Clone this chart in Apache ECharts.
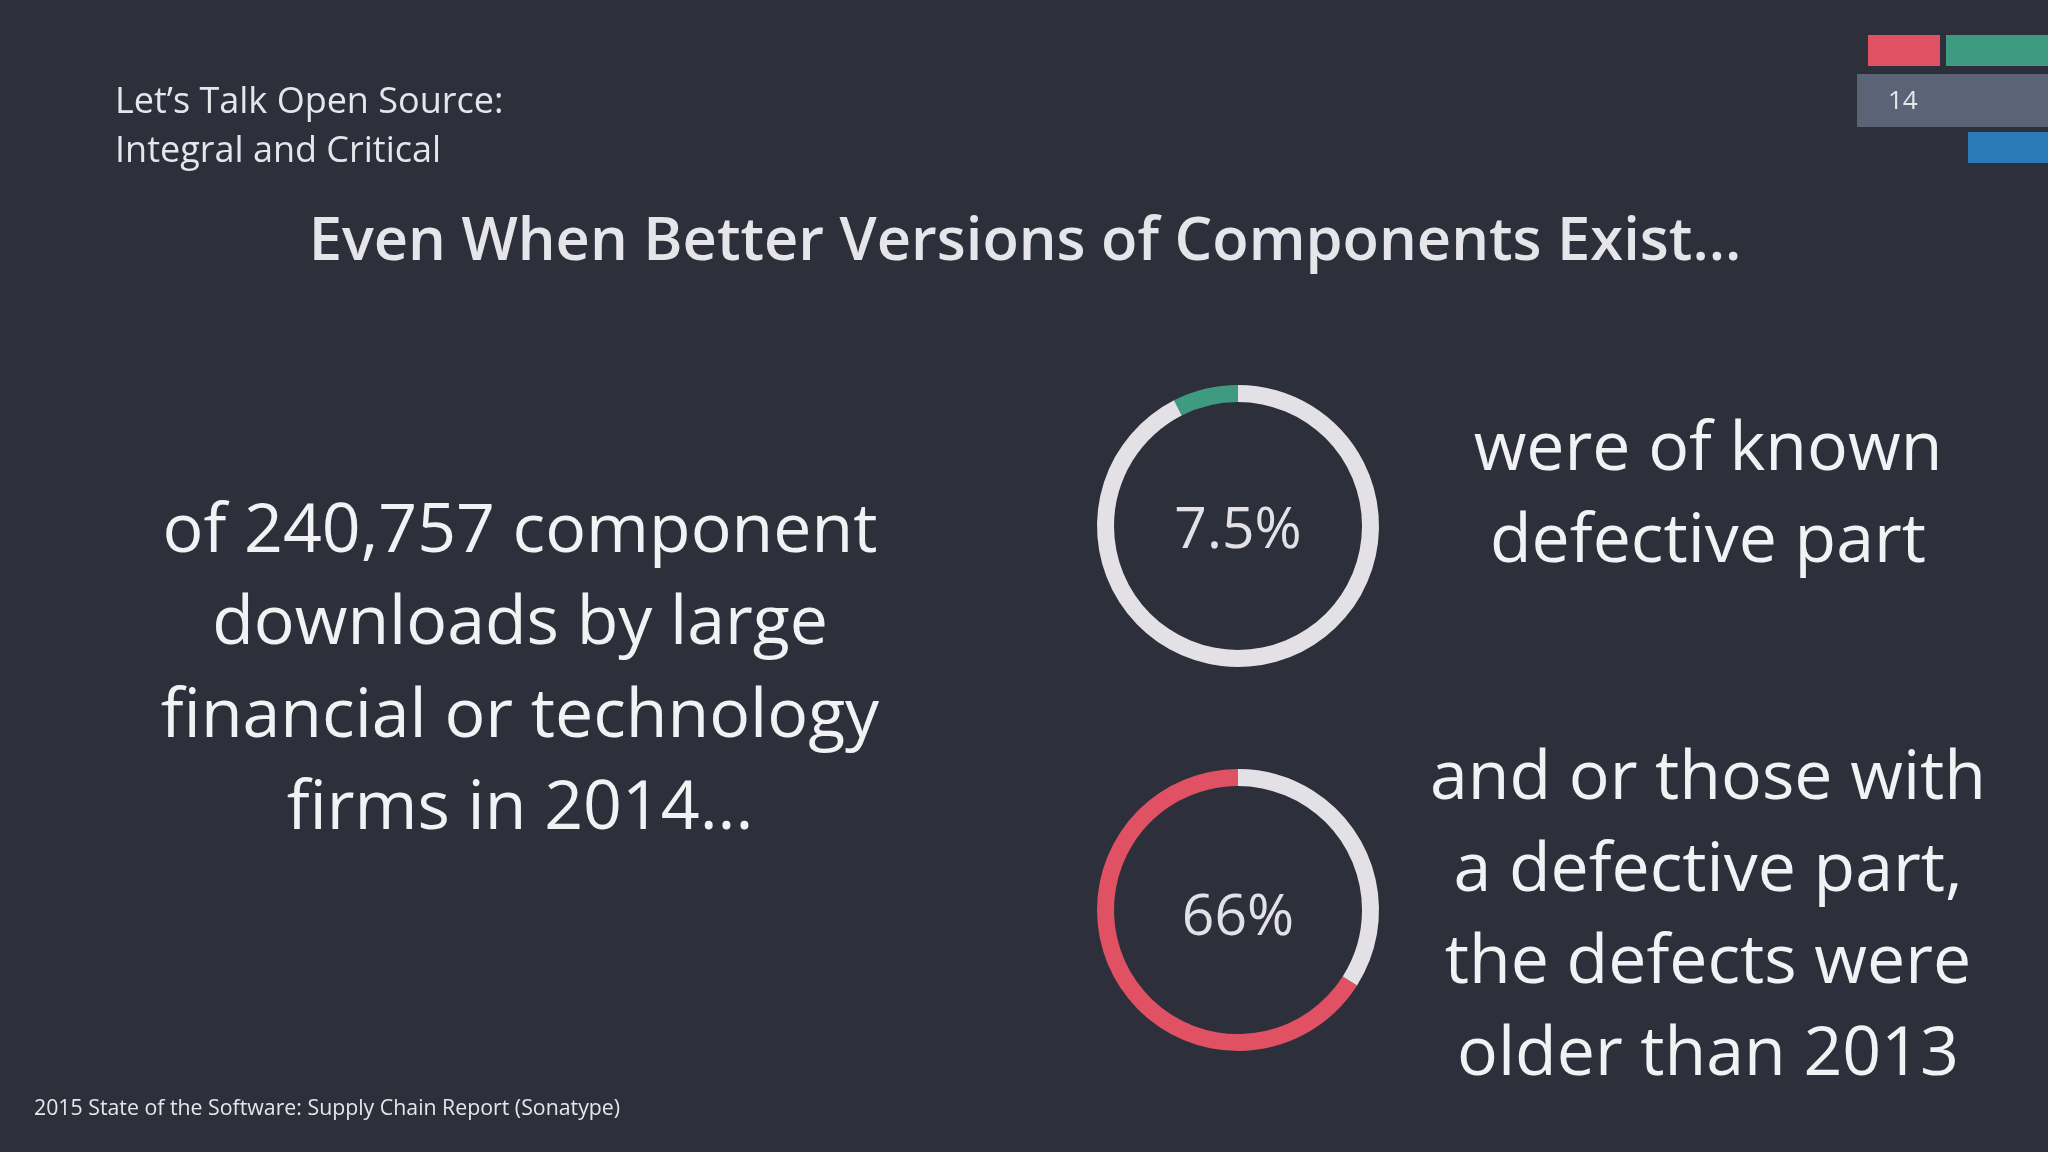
<!DOCTYPE html>
<html><head><meta charset="utf-8">
<script src="https://cdn.jsdelivr.net/npm/echarts@6/dist/echarts.min.js"></script>
<style>html,body{margin:0;padding:0;background:#2d2f3b}#c{width:2048px;height:1152px}</style>
</head><body><div id="c"></div>
<script>
const donutLabels = ['7.5%', '66%'];
const donutValues = [7.5, 66];
const donutColors = ['#3e9a80', '#e05163'];
const donutTexts = ['were of known\ndefective part', 'and or those with\na defective part,\nthe defects were\nolder than 2013'];
const leftText = 'of 240,757 component\ndownloads by large\nfinancial or technology\nfirms in 2014...';
const pageNum = '14';

const F = '"Open Sans", "Noto Sans", sans-serif';
const centers = [[1238, 526], [1238, 910]];
const series = donutValues.map((v, i) => ({
  type: 'pie', radius: [124, 141], center: centers[i], clockwise: false, startAngle: 90,
  silent: true, label: {show: false}, labelLine: {show: false},
  data: [{value: v, itemStyle: {color: donutColors[i]}}, {value: 100 - v, itemStyle: {color: '#e3e1e6'}}]
}));
const g = [
  {type:'rect', shape:{x:1868,y:35,width:72,height:31}, style:{fill:'#e05163'}},
  {type:'rect', shape:{x:1946,y:35,width:102,height:31}, style:{fill:'#3e9a80'}},
  {type:'rect', shape:{x:1857,y:74,width:191,height:53}, style:{fill:'#5b6477'}},
  {type:'rect', shape:{x:1968,y:132,width:80,height:31}, style:{fill:'#2a7ab8'}},
  {type:'text', x:1888, y:102, style:{text:pageNum, fill:'#e6e6ea', font:'26px '+F, align:'left', verticalAlign:'middle'}},
  {type:'text', x:115, y:127, style:{text:"Let’s Talk Open Source:\nIntegral and Critical", fill:'#e6e6ea', font:'36px '+F, lineHeight:49, verticalAlign:'middle'}},
  {type:'text', x:1025, y:243, style:{text:'Even When Better Versions of Components Exist...', fill:'#e6e6ea', font:'600 59.6px '+F, align:'center', verticalAlign:'middle'}},
  {type:'text', x:520, y:671, style:{text:leftText, fill:'#f2f2f4', font:'68px '+F, lineHeight:92.5, align:'center', verticalAlign:'middle'}},
  {type:'text', x:34, y:1109, style:{text:'2015 State of the Software: Supply Chain Report (Sonatype)', fill:'#e6e6ea', font:'21.3px '+F, verticalAlign:'middle'}}
];
donutLabels.forEach((t, i) => g.push({type:'text', x:centers[i][0], y:centers[i][1] + 6 + i * 3, style:{text:t, fill:'#e3e1e6', font:'57px '+F, align:'center', verticalAlign:'middle'}}));
g.push({type:'text', x:1708, y:497, style:{text:donutTexts[0], fill:'#f2f2f4', font:'68px '+F, lineHeight:92, align:'center', verticalAlign:'middle'}});
g.push({type:'text', x:1708, y:918, style:{text:donutTexts[1], fill:'#f2f2f4', font:'68px '+F, lineHeight:92, align:'center', verticalAlign:'middle'}});

const chart = echarts.init(document.getElementById('c'));
chart.setOption({backgroundColor:'#2d2f3b', animation:false, series, graphic:g});
</script></body></html>
